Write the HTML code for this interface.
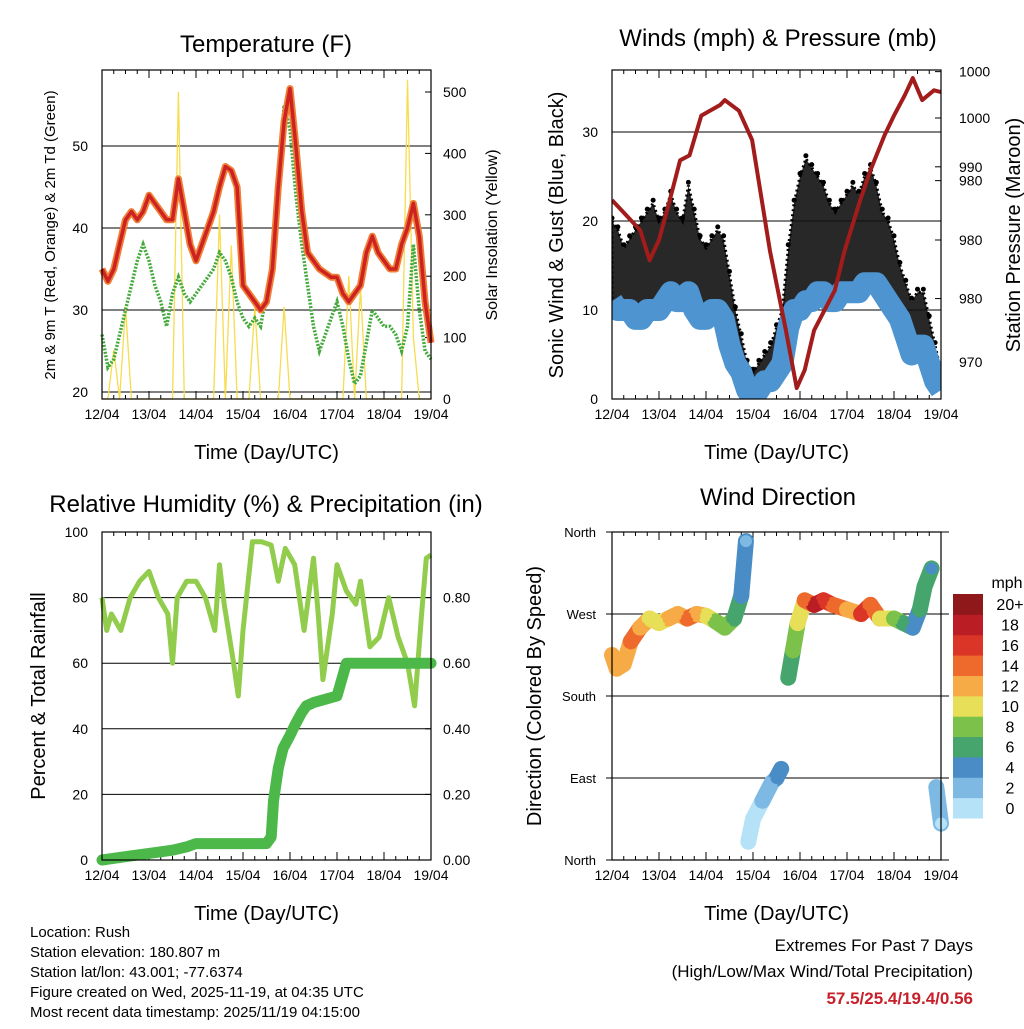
<!DOCTYPE html>
<html><head><meta charset="utf-8">
<style>
body{margin:0;background:#fff;}
svg text{font-family:"Liberation Sans",sans-serif;fill:#000;}
</style></head>
<body>
<svg id="c" width="1024" height="1024" viewBox="0 0 1024 1024" xmlns="http://www.w3.org/2000/svg">
<defs><clipPath id="windclip"><rect x="612" y="70" width="329" height="329"/></clipPath></defs>
</svg>
<script>
// ---------- data ----------
const dayLabels = ["12/04","13/04","14/04","15/04","16/04","17/04","18/04","19/04"];
const tempRed = [35,33.5,35,38,41,42,41,42,44,43,42,41,41,46,42,38,36,38,40,42,45,47.5,47,45,33,32,31,30,31,35,45,53,57,50,42,37,36,35,34.5,34,34,32,31,32,33,37,39,37,36,35,35,38,40,43,39,31,26];
const dewGreen = [27,23,24,27,30,33,36,38,36,33,31,28,32,34,32,31,32,33,34,35,37,36,34,31,29,28,29,28,32,35,45,55,52,44,38,33,28,25,27,29,31,28,24,21,22,26,30,29,28,28,27,25,28,38,30,25,24];
const solar = [0,0,80,0,150,0,0,0,0,0,0,0,0,500,0,0,0,0,0,0,300,0,250,0,0,0,150,0,0,0,0,150,0,0,0,0,0,0,0,0,0,0,200,0,180,0,0,0,0,0,0,0,520,100,0,0,0];
const windSpd = [11,10,10,10,9,9,10,10,10,11,12,11,11,12,10,9,9,10,10,9,6,4,3,1,0,1,2,2,3,4,8,10,10,11,11,12,12,11,11,12,12,12,12,13,13,13,12,11,10,9,7,5,6,6,4,2,1];
const windGust = [20,19,17,18,19,20,21,22,20,21,23,21,20,24,21,18,17,18,19,18,14,10,7,4,3,4,5,6,8,10,17,22,25,27,26,25,24,22,21,22,23,24,23,25,26,24,21,20,18,15,13,11,12,12,9,6,3];
const presTime = [0,0.6,0.8,1.0,1.23,1.45,1.65,1.9,2.3,2.4,2.7,2.98,3.36,3.7,3.93,4.1,4.3,4.74,4.95,5.28,5.5,5.8,6.0,6.23,6.4,6.6,6.85,7.0];
const presVal = [989.9,986.2,982.5,985,989.9,994.8,995.4,1000.3,1001.6,1002.2,1000.9,997.3,983.7,973.9,966.8,969,973.9,978.8,983.7,989.9,993.6,997.9,1000.3,1002.8,1004.9,1002.2,1003.4,1003.2];
const rhTime = [0,0.1,0.2,0.4,0.6,0.8,1.0,1.2,1.4,1.5,1.6,1.8,2.0,2.2,2.4,2.5,2.6,2.8,2.9,3.0,3.2,3.4,3.6,3.75,3.9,4.1,4.3,4.5,4.6,4.7,4.9,5.0,5.2,5.4,5.5,5.7,5.9,6.1,6.3,6.5,6.65,6.8,6.9,7.0];
const rhVal = [80,70,75,70,80,85,88,80,75,60,80,85,85,80,70,90,78,60,50,70,97,97,96,85,95,90,70,92,75,55,75,90,82,78,85,65,68,80,68,60,47,75,92,93];
const rainTime = [0,1.0,1.5,1.8,2.0,3.5,3.6,3.65,3.75,3.85,4.0,4.1,4.25,4.35,4.5,5.0,5.1,5.2,7.0];
const rainVal = [0,0.02,0.03,0.04,0.05,0.05,0.07,0.18,0.28,0.34,0.38,0.41,0.45,0.47,0.48,0.50,0.55,0.60,0.60];
const dirTime = [0,0.1,0.25,0.4,0.6,0.8,1.0,1.2,1.4,1.6,1.8,2.0,2.2,2.4,2.6,2.75,2.85,2.9,3.0,3.2,3.4,3.5,3.6,3.75,3.85,3.95,4.1,4.3,4.5,4.7,5.0,5.3,5.5,5.7,6.0,6.2,6.4,6.55,6.65,6.8,6.9,7.0];
const dirVal = [225,210,215,240,255,265,260,265,270,265,270,268,262,255,265,290,350,20,45,65,85,90,100,200,230,260,285,280,285,280,275,270,280,265,265,260,255,275,300,320,80,40];
const dirSpd = [12,12,13,14,12,10,10,12,13,14,12,10,9,8,6,4,2,1,1,2,3,4,5,6,8,10,14,18,16,14,12,16,14,10,8,6,4,6,6,4,2,1];
const tempTicks = [20,30,40,50];
const solarTicks = [0,100,200,300,400,500];
const windTicks = [0,10,20,30];
const presLabels = ["970","980","980","980","990","1000","1000"];
const presLabelVals = [970,977.8,985,992.3,994,1000,1005.7];
const rhTicks = [0,20,40,60,80,100];
const rainTicks = ["0.00","0.20","0.40","0.60","0.80"];
const dirNames = ["North","East","South","West","North"];
const cbLabels = ["0","2","4","6","8","10","12","14","16","18","20+"];
const cbColors = ["#b5e2f7","#7db9e3","#4a8dc6","#46a56c","#7cc24a","#e7df58","#f6ab47","#ee6a2c","#db3527","#bb1d25","#8f181b"];

// ---------- helpers ----------
const S = document.getElementById('c');
const NS = "http://www.w3.org/2000/svg";
function mk(tag, attrs, parent){const e=document.createElementNS(NS,tag);for(const k in attrs)e.setAttribute(k,attrs[k]);(parent||S).appendChild(e);return e;}
function txt(x,y,s,size,anchor,parent,rot){const t=mk('text',{x:x,y:y,'font-size':size,'text-anchor':anchor||'middle'},parent);if(rot)t.setAttribute('transform','rotate(-90 '+x+' '+y+')');t.textContent=s;return t;}
function scale(d0,d1,r0,r1){return v=>r0+(v-d0)*(r1-r0)/(d1-d0);}

function panel(name,x0,x1,y0,y1){
  const g=mk('g',{});
  
  
  const X=scale(0,7,x0,x1);
  for(let i=0;i<=7;i++){
    const x=X(i);
    mk('line',{x1:x,x2:x,y1:y1,y2:y1-8,stroke:'#000','stroke-width':1},g);
    mk('line',{x1:x,x2:x,y1:y0,y2:y0+8,stroke:'#000','stroke-width':1},g);
    const t=txt(x,y1+20,dayLabels[i],14,'middle',g);
    
    
    if(i<7){for(let j=1;j<4;j++){const xm=X(i+j/4);mk('line',{x1:xm,x2:xm,y1:y1,y2:y1-4,stroke:'#000'},g);mk('line',{x1:xm,x2:xm,y1:y0,y2:y0+4,stroke:'#000'},g);}}
  }
  const xt=txt((x0+x1)/2,y1+60,"Time (Day/UTC)",20,'middle',g);
  
  
  return {g,X};
}
function frame(g,x0,x1,y0,y1){mk('rect',{x:x0,y:y0,width:x1-x0,height:y1-y0,fill:'none',stroke:'#000','stroke-width':1.2},g);}
function path(pts){return pts.map((p,i)=>(i?'L':'M')+p[0].toFixed(1)+' '+p[1].toFixed(1)).join(' ');}

// ---------- Panel 1: Temperature ----------
(function(){
  const x0=102,x1=431,y0=70,y1=399;
  const {g,X}=panel('temperature-panel',x0,x1,y0,y1);
  const Y=scale(20,30,392,310), YS=scale(0,500,399,92);
  tempTicks.forEach(v=>{mk('line',{x1:x0,x2:x1,y1:Y(v),y2:Y(v),stroke:'#000','stroke-width':1},g);const t=txt(x0-14,Y(v)+5,String(v),14,'end',g);});
  solarTicks.forEach(v=>{mk('line',{x1:x1,x2:x1-6,y1:YS(v),y2:YS(v),stroke:'#000'},g);const t=txt(x1+12,YS(v)+5,String(v),14,'start',g);});
  const n=tempRed.length;
  const sp=mk('path',{d:path(solar.map((v,i)=>[X(i*7/(solar.length-1)),YS(v)])),fill:'none',stroke:'#f7dc4e','stroke-width':1.3},g);
  
  const dp=mk('path',{d:path(dewGreen.map((v,i)=>[X(i*7/(dewGreen.length-1)),Y(v)])),fill:'none',stroke:'#44aa3c','stroke-width':3.5,'stroke-dasharray':'2 1.5'},g);
  
  const op=mk('path',{d:path(tempRed.map((v,i)=>[X(i*7/(n-1)),Y(v)])),fill:'none',stroke:'#f07f35','stroke-width':7,'stroke-linejoin':'round'},g);
  
  const rp=mk('path',{d:path(tempRed.map((v,i)=>[X(i*7/(n-1)),Y(v)])),fill:'none',stroke:'#cc2222','stroke-width':3.5,'stroke-linejoin':'round'},g);
  
  frame(g,x0,x1,y0,y1);
  const t1=txt(266,52,"Temperature (F)",24,'middle',g);
  const t2=txt(55,235,"2m & 9m T (Red, Orange) & 2m Td (Green)",15,'middle',g,true);
  const t3=txt(497,235,"Solar Insolation (Yellow)",16,'middle',g,true);
})();

// ---------- Panel 2: Winds ----------
(function(){
  const x0=612,x1=941,y0=70,y1=399;
  const {g,X}=panel('winds-panel',x0,x1,y0,y1);
  const Y=scale(0,10,399,310), YP=scale(970,1000,362,118);
  windTicks.forEach(v=>{if(v>0)mk('line',{x1:x0,x2:x1,y1:Y(v),y2:Y(v),stroke:'#000'},g);const t=txt(x0-14,Y(v)+5,String(v),14,'end',g);});
  presLabels.forEach((s,i)=>{const y=YP(presLabelVals[i]);mk('line',{x1:x1,x2:x1-6,y1:y,y2:y,stroke:'#000'},g);const t=txt(x1+18,y+5,s,14,'start',g);});
  const cg=mk('g',{'clip-path':'url(#windclip)'},g);
  const n=windGust.length;
  const top=windGust.map((v,i)=>[X(i*7/(n-1)),Y(v)]);
  const bot=windSpd.map((v,i)=>[X(i*7/(n-1)),Y(v)]).reverse();
  const ga=mk('path',{d:path(top.concat(bot))+' Z',fill:'#111','fill-opacity':0.9,stroke:'#000','stroke-width':3,'stroke-dasharray':'2 3'},cg);
  
  top.forEach(p=>{const c=mk('circle',{cx:p[0],cy:p[1]-3,r:2.5,fill:'#000'},cg);});
  const bp=mk('path',{d:path(windSpd.map((v,i)=>[X(i*7/(n-1)),Y(v)])),fill:'none',stroke:'#4d94d0','stroke-width':22,'stroke-linejoin':'round'},cg);
  
  const pp=mk('path',{d:path(presVal.map((v,i)=>[X(presTime[i]),YP(v)])),fill:'none',stroke:'#a21c1c','stroke-width':4,'stroke-linejoin':'round'},cg);
  
  frame(g,x0,x1,y0,y1);
  const t1=txt(778,46,"Winds (mph) & Pressure (mb)",24,'middle',g);
  const t2=txt(563,235,"Sonic Wind & Gust (Blue, Black)",20,'middle',g,true);
  const t3=txt(1020,235,"Station Pressure (Maroon)",20,'middle',g,true);
})();

// ---------- Panel 3: RH & Precip ----------
(function(){
  const x0=102,x1=431,y0=532,y1=860;
  const {g,X}=panel('humidity-panel',x0,x1,y0,y1);
  const Y=scale(0,100,860,532);
  rhTicks.forEach(v=>{if(v>0&&v<100)mk('line',{x1:x0,x2:x1,y1:Y(v),y2:Y(v),stroke:'#000'},g);const t=txt(x0-14,Y(v)+5,String(v),14,'end',g);});
  rainTicks.forEach(s=>{const y=Y(parseFloat(s)*100);mk('line',{x1:x1,x2:x1-6,y1:y,y2:y,stroke:'#000'},g);const t=txt(x1+12,y+5,s,14,'start',g);});
  const rh=mk('path',{d:path(rhVal.map((v,i)=>[X(rhTime[i]),Y(v)])),fill:'none',stroke:'#92cc4c','stroke-width':5,'stroke-linejoin':'round'},g);
  
  const rn=mk('path',{d:path(rainVal.map((v,i)=>[X(rainTime[i]),Y(v*100)])),fill:'none',stroke:'#4cb84a','stroke-width':11,'stroke-linejoin':'round','stroke-linecap':'round'},g);
  
  frame(g,x0,x1,y0,y1);
  const t1=txt(266,512,"Relative Humidity (%) & Precipitation (in)",24,'middle',g);
  const t2=txt(45,696,"Percent & Total Rainfall",20,'middle',g,true);
})();

// ---------- Panel 4: Wind direction ----------
(function(){
  const x0=612,x1=941,y0=532,y1=860;
  const {g,X}=panel('wind-direction-panel',x0,x1,y0,y1);
  const Y=scale(0,360,860,532);
  dirNames.forEach((s,i)=>{const y=Y(i*90);mk('line',{x1:x0-6,x2:x1+8,y1:y,y2:y,stroke:'#000'},g);const t=txt(x0-16,y+5,s,13,'end',g);});
  const col=s=>cbColors[Math.max(0,Math.min(10,Math.floor(s/2)))];
  for(let i=0;i<dirTime.length-1;i++){
    if(Math.abs(dirVal[i+1]-dirVal[i])>90) continue;
    const seg=mk('line',{x1:X(dirTime[i]),y1:Y(dirVal[i]),x2:X(dirTime[i+1]),y2:Y(dirVal[i+1]),stroke:col(dirSpd[i]),'stroke-width':16,'stroke-linecap':'round'},g);
    
  }
  dirTime.forEach((t,i)=>{const d=mk('circle',{cx:X(t),cy:Y(dirVal[i]),r:6,fill:col(dirSpd[i])},g);});
  frame(g,x0,x1,y0,y1);
  const t1=txt(778,505,"Wind Direction",24,'middle',g);
  const t2=txt(541,696,"Direction (Colored By Speed)",20,'middle',g,true);
  const cb=mk('g',{});
  
  
  const bh=224/11;
  for(let i=0;i<11;i++){
    const y=818-(i+1)*bh;
    mk('rect',{x:953,y:y,width:30,height:bh+0.5,fill:cbColors[i]},cb);
    const t=txt(1010,y+bh/2+6,cbLabels[i],16,'middle',cb);
    
  }
  const m=txt(1007,588,"mph",16,'middle',cb);
})();

// ---------- footer text ----------
const info=["Location: Rush","Station elevation: 180.807 m","Station lat/lon: 43.001; -77.6374","Figure created on Wed, 2025-11-19, at 04:35 UTC","Most recent data timestamp: 2025/11/19 04:15:00"];
info.forEach((s,i)=>{const t=txt(30,937+i*20,s,15,'start');});
const e1=txt(973,951,"Extremes For Past 7 Days",17,'end');
const e2=txt(973,977,"(High/Low/Max Wind/Total Precipitation)",17,'end');
const e3=txt(973,1004,"57.5/25.4/19.4/0.56",17,'end');e3.setAttribute('font-weight','bold');e3.style.fill='#c8202a';

</script>
</body></html>
